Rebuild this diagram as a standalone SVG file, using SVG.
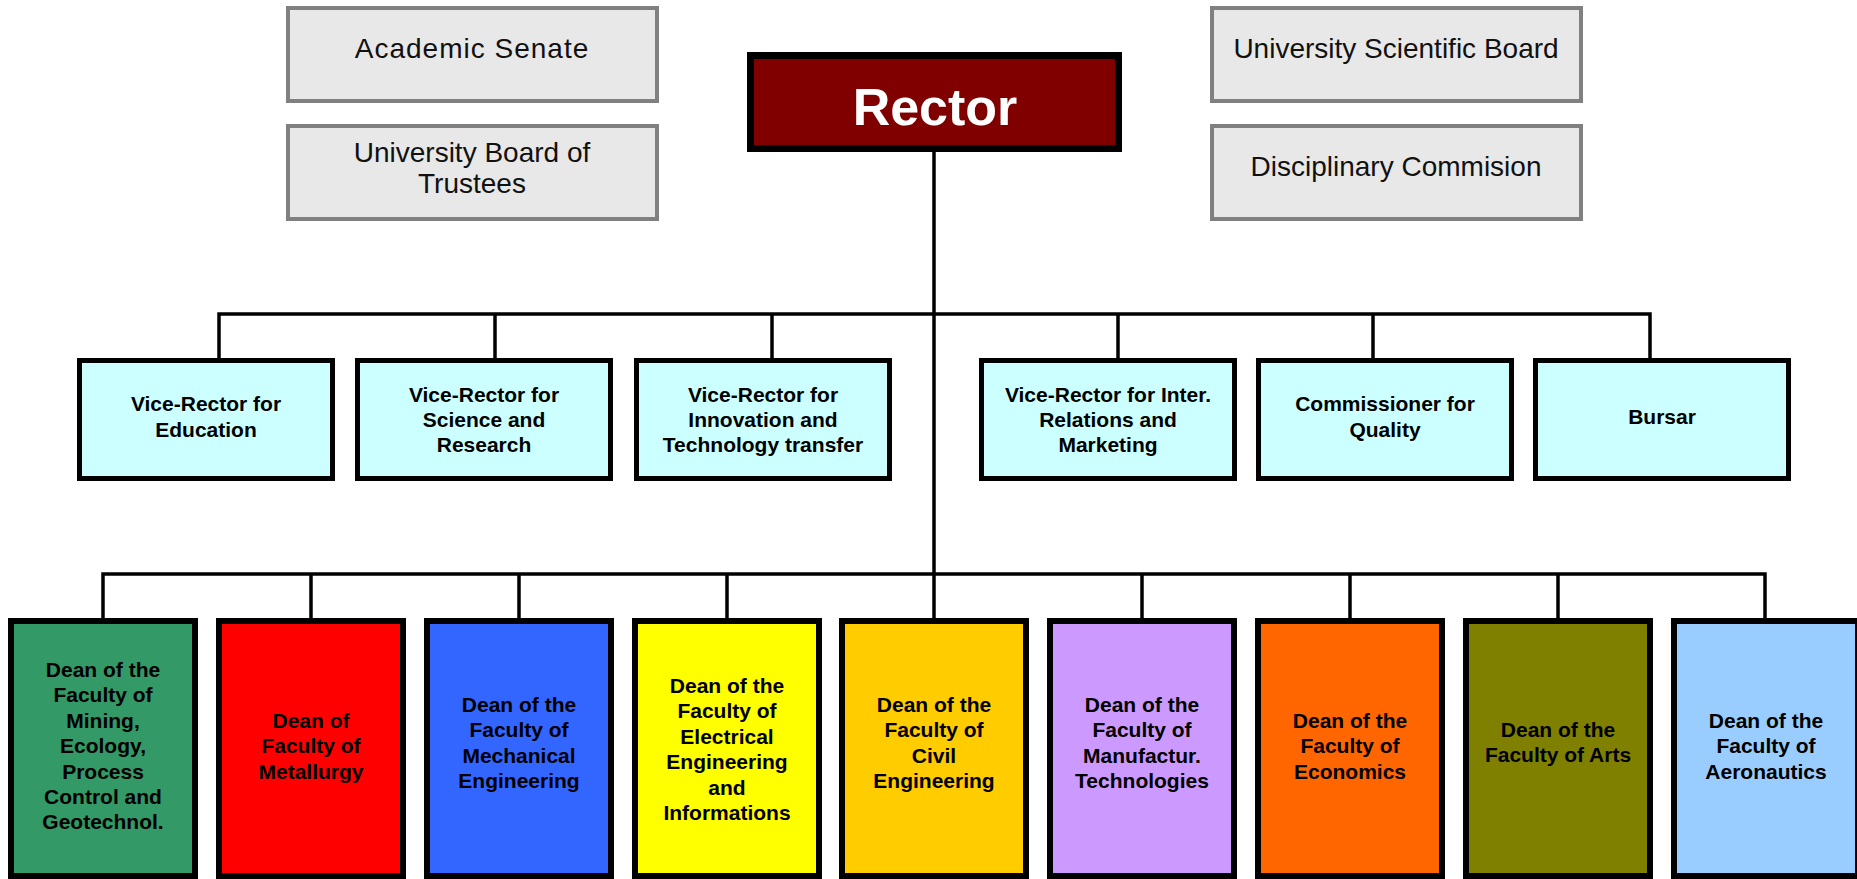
<svg xmlns="http://www.w3.org/2000/svg" width="1857" height="879" viewBox="0 0 1857 879">
<style>
.gray{fill:#E8E8E8;stroke:#808080;stroke-width:4}
.gt{font-family:"Liberation Sans",Arial,sans-serif;font-size:28px;fill:#111;text-anchor:middle}
.vr{fill:#CCFFFF;stroke:#000;stroke-width:5}
.dn{stroke:#000;stroke-width:6}
.bt{font-family:"Liberation Sans",Arial,sans-serif;font-size:21px;font-weight:bold;fill:#000;text-anchor:middle}
.ln{fill:none;stroke:#000;stroke-width:3.5}
</style>
<rect width="1857" height="879" fill="#fff"/>
<g id="connectors">
<line class="ln" x1="934" y1="152" x2="934" y2="618"/>
<polyline class="ln" points="219,359 219,314 1650,314 1650,359"/>
<line class="ln" x1="495" y1="314" x2="495" y2="359"/>
<line class="ln" x1="772" y1="314" x2="772" y2="359"/>
<line class="ln" x1="1118" y1="314" x2="1118" y2="359"/>
<line class="ln" x1="1373" y1="314" x2="1373" y2="359"/>
<polyline class="ln" points="103,618 103,574 1765,574 1765,618"/>
<line class="ln" x1="311" y1="574" x2="311" y2="618"/>
<line class="ln" x1="519" y1="574" x2="519" y2="618"/>
<line class="ln" x1="727" y1="574" x2="727" y2="618"/>
<line class="ln" x1="1142" y1="574" x2="1142" y2="618"/>
<line class="ln" x1="1350" y1="574" x2="1350" y2="618"/>
<line class="ln" x1="1558" y1="574" x2="1558" y2="618"/>
</g>
<g id="academic-senate"><rect class="gray" x="288" y="8" width="369" height="93"/><text class="gt" x="472" y="58" letter-spacing="1">Academic Senate</text></g>
<g id="board-trustees"><rect class="gray" x="288" y="126" width="369" height="93"/><text class="gt" x="472" y="162">University Board of</text><text class="gt" x="472" y="193">Trustees</text></g>
<g id="scientific-board"><rect class="gray" x="1212" y="8" width="369" height="93"/><text class="gt" x="1396" y="58">University Scientific Board</text></g>
<g id="disciplinary"><rect class="gray" x="1212" y="126" width="369" height="93"/><text class="gt" x="1396" y="176">Disciplinary Commision</text></g>
<g id="rector"><rect x="750.5" y="55.5" width="368" height="93" fill="#800000" stroke="#000" stroke-width="7"/><text x="935" y="125" font-family="'Liberation Sans',Arial,sans-serif" font-size="52" font-weight="bold" fill="#fff" text-anchor="middle">Rector</text></g>
<g id="vr-education"><rect class="vr" x="79.5" y="360.5" width="253" height="118"/><text class="bt" x="206" y="411">Vice-Rector for</text><text class="bt" x="206" y="437">Education</text></g>
<g id="vr-science"><rect class="vr" x="357.5" y="360.5" width="253" height="118"/><text class="bt" x="484" y="402">Vice-Rector for</text><text class="bt" x="484" y="427">Science and</text><text class="bt" x="484" y="452">Research</text></g>
<g id="vr-innovation"><rect class="vr" x="636.5" y="360.5" width="253" height="118"/><text class="bt" x="763" y="402">Vice-Rector for</text><text class="bt" x="763" y="427">Innovation and</text><text class="bt" x="763" y="452">Technology transfer</text></g>
<g id="vr-relations"><rect class="vr" x="981.5" y="360.5" width="253" height="118"/><text class="bt" x="1108" y="402">Vice-Rector for Inter.</text><text class="bt" x="1108" y="427">Relations and</text><text class="bt" x="1108" y="452">Marketing</text></g>
<g id="commissioner-quality"><rect class="vr" x="1258.5" y="360.5" width="253" height="118"/><text class="bt" x="1385" y="411">Commissioner for</text><text class="bt" x="1385" y="437">Quality</text></g>
<g id="bursar"><rect class="vr" x="1535.5" y="360.5" width="253" height="118"/><text class="bt" x="1662" y="424">Bursar</text></g>
<g id="dean-mining"><rect class="dn" fill="#339966" x="11" y="621" width="184" height="255"/><text class="bt" x="103" y="677">Dean of the</text><text class="bt" x="103" y="702.4">Faculty of</text><text class="bt" x="103" y="727.8">Mining,</text><text class="bt" x="103" y="753.2">Ecology,</text><text class="bt" x="103" y="778.6">Process</text><text class="bt" x="103" y="804">Control and</text><text class="bt" x="103" y="829.4">Geotechnol.</text></g>
<g id="dean-metallurgy"><rect class="dn" fill="#FF0000" x="219" y="621" width="184" height="255"/><text class="bt" x="311" y="728">Dean of</text><text class="bt" x="311" y="753.4">Faculty of</text><text class="bt" x="311" y="778.8">Metallurgy</text></g>
<g id="dean-mechanical"><rect class="dn" fill="#3366FF" x="427" y="621" width="184" height="255"/><text class="bt" x="519" y="712">Dean of the</text><text class="bt" x="519" y="737.4">Faculty of</text><text class="bt" x="519" y="762.8">Mechanical</text><text class="bt" x="519" y="788.2">Engineering</text></g>
<g id="dean-electrical"><rect class="dn" fill="#FFFF00" x="635" y="621" width="184" height="255"/><text class="bt" x="727" y="693">Dean of the</text><text class="bt" x="727" y="718.4">Faculty of</text><text class="bt" x="727" y="743.8">Electrical</text><text class="bt" x="727" y="769.2">Engineering</text><text class="bt" x="727" y="794.6">and</text><text class="bt" x="727" y="820">Informations</text></g>
<g id="dean-civil"><rect class="dn" fill="#FFCC00" x="842" y="621" width="184" height="255"/><text class="bt" x="934" y="712">Dean of the</text><text class="bt" x="934" y="737.4">Faculty of</text><text class="bt" x="934" y="762.8">Civil</text><text class="bt" x="934" y="788.2">Engineering</text></g>
<g id="dean-manufacturing"><rect class="dn" fill="#CC99FF" x="1050" y="621" width="184" height="255"/><text class="bt" x="1142" y="712">Dean of the</text><text class="bt" x="1142" y="737.4">Faculty of</text><text class="bt" x="1142" y="762.8">Manufactur.</text><text class="bt" x="1142" y="788.2">Technologies</text></g>
<g id="dean-economics"><rect class="dn" fill="#FF6600" x="1258" y="621" width="184" height="255"/><text class="bt" x="1350" y="728">Dean of the</text><text class="bt" x="1350" y="753.4">Faculty of</text><text class="bt" x="1350" y="778.8">Economics</text></g>
<g id="dean-arts"><rect class="dn" fill="#808000" x="1466" y="621" width="184" height="255"/><text class="bt" x="1558" y="737">Dean of the</text><text class="bt" x="1558" y="762.4">Faculty of Arts</text></g>
<g id="dean-aeronautics"><rect class="dn" fill="#99CCFF" x="1674" y="621" width="184" height="255"/><text class="bt" x="1766" y="728">Dean of the</text><text class="bt" x="1766" y="753.4">Faculty of</text><text class="bt" x="1766" y="778.8">Aeronautics</text></g>
</svg>
